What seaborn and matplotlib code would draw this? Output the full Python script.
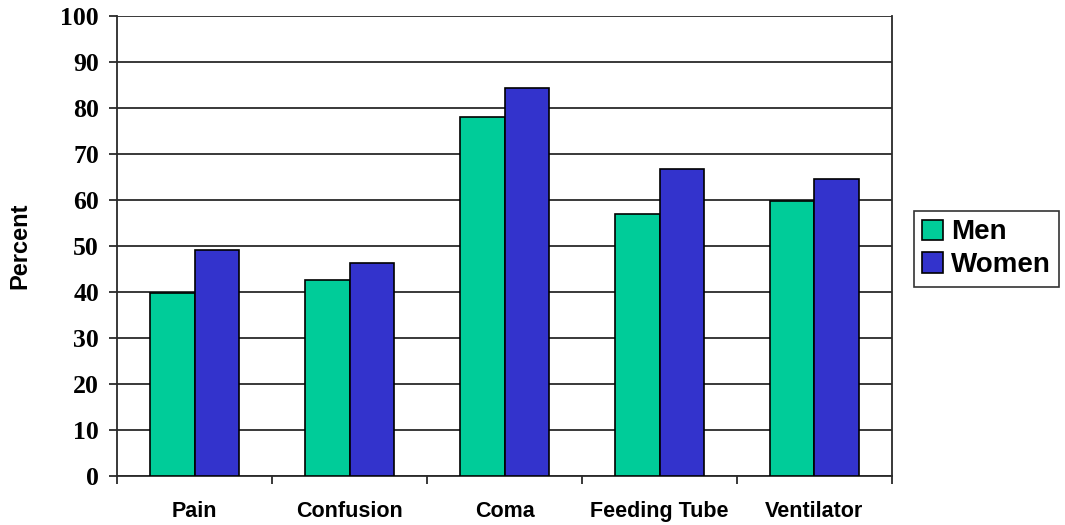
import pandas as pd
import matplotlib
matplotlib.use('Agg')
import matplotlib.pyplot as plt
import seaborn as sns

# Values
categories = ['Pain', 'Confusion', 'Coma', 'Feeding Tube', 'Ventilator']
men = [39.7, 42.5, 78.0, 56.9, 59.8]
women = [49.1, 46.2, 84.3, 66.7, 64.5]
groups = ['Men', 'Women']
colors = ['#00CC99', '#3333CC']

data = pd.DataFrame({'category': categories, 'Men': men, 'Women': women})
data = data.melt(id_vars='category', var_name='group', value_name='percent')

sns.set_style('white')
plt.rcParams['font.family'] = ['Liberation Sans', 'DejaVu Sans']
plt.rcParams['text.color'] = 'black'
plt.rcParams['xtick.color'] = 'black'
plt.rcParams['ytick.color'] = 'black'
plt.rcParams['axes.labelcolor'] = 'black'

fig = plt.figure(figsize=(10.65, 5.25), dpi=100)
ax = fig.add_axes([0.110, 0.094, 0.7275, 0.876])

sns.barplot(data=data, x='category', y='percent', hue='group', hue_order=groups,
            palette=colors, width=0.57, edgecolor='black', linewidth=1.2,
            saturation=1, ax=ax, zorder=3)

ax.set_ylim(0, 100)
ax.set_xlim(-0.5, 4.5)
ax.set_yticks(range(0, 101, 10))
ax.yaxis.grid(True, color='#2a2a2a', linewidth=1.3, zorder=0)
ax.set_axisbelow(True)

for s in ['left', 'bottom', 'right']:
    ax.spines[s].set_visible(True)
    ax.spines[s].set_color('#2a2a2a')
    ax.spines[s].set_linewidth(1.3)
ax.spines['top'].set_visible(False)

ax.tick_params(axis='y', direction='out', length=6, width=1.3, color='#2a2a2a',
               left=True, pad=7)
for lbl in ax.get_yticklabels():
    lbl.set_family(['Liberation Serif', 'DejaVu Serif'])
    lbl.set_fontweight('bold')
    lbl.set_fontsize(18.5)

ax.tick_params(axis='x', which='major', length=0, pad=18)
ax.set_xticks([i - 0.5 for i in range(6)], minor=True)
ax.tick_params(axis='x', which='minor', direction='out', length=6, width=1.3,
               color='#2a2a2a', bottom=True)
for lbl in ax.get_xticklabels():
    lbl.set_fontweight('bold')
    lbl.set_fontsize(15.5)

ax.set_xlabel('')
ax.set_ylabel('Percent', fontsize=17, fontweight='bold')
ax.yaxis.set_label_coords(-0.111, 0.5)

handles, labels = ax.get_legend_handles_labels()
ax.legend(handles, labels, loc='center left', bbox_to_anchor=(0.858, 0.526),
          bbox_transform=fig.transFigure, frameon=True, fancybox=False,
          edgecolor='black', prop={'weight': 'bold', 'size': 20},
          handlelength=0.75, handleheight=0.75, handletextpad=0.3,
          borderpad=0.3, labelspacing=0.25, borderaxespad=0)
ax.get_legend().get_frame().set_linewidth(1.2)

plt.savefig('out.png', dpi=100)
